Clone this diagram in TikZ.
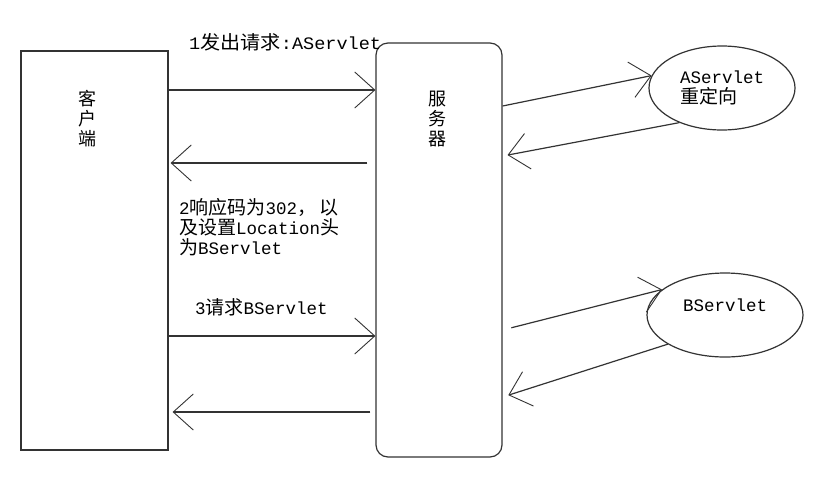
\documentclass[tikz,border=0pt]{standalone}
\usepackage{fontspec}
\usepackage{graphicx}
\setmainfont{Liberation Mono}
\newfontfamily\cjkfont{Noto Sans CJK SC}
\usetikzlibrary{arrows.meta,shapes.geometric}
\newcommand\zhtxt[1]{{\cjkfont\fontsize{19}{20}\selectfont #1}}
\begin{document}
\begin{tikzpicture}[x=1pt,y=-1pt,
  ln/.style={draw=black!80, line width=1.2pt},
  arr/.style={draw=black!80, line width=1.2pt, -{Straight Barb[length=20pt,width=36pt,line width=0.9pt]}},
  txt/.style={font=\fontsize{17.5}{20}\selectfont, inner sep=0pt, text=black},
  vtxt/.style={font=\cjkfont\fontsize{18}{20}\selectfont, inner sep=0pt, align=center, text=black}]
\useasboundingbox[fill=white] (0,0) rectangle (818,477);
% boxes
\node[ln, rectangle, minimum width=147pt, minimum height=399pt, inner sep=0pt] (cli) at (94.5,250.5) {};
\node[ln, rectangle, rounded corners=12pt, minimum width=126pt, minimum height=414pt, inner sep=0pt] (srv) at (439,250) {};
\node[vtxt] (clitxt) at (87,119) {客\\户\\端};
\node[vtxt] (srvtxt) at (437,119) {服\\务\\器};
% ellipses
\node[ln, ellipse, minimum width=146pt, minimum height=84pt, txt, align=left] (ea) at (722,88) {AServlet\\\zhtxt{重定向}};
\node[ln, ellipse, minimum width=156pt, minimum height=84pt, txt] (eb) at (725,315) {\raisebox{4pt}[0pt][0pt]{BServlet}};
% labels
\node[txt, anchor=west] (lab1) at (189,42) {\scalebox{1.06}[1]{1\zhtxt{发出请求}:AServlet}};
\node[txt, anchor=west, align=left] (lab2) at (179,227) {2\zhtxt{响应码为}302\zhtxt{，\,以}\\\zhtxt{及设置}Location\zhtxt{头}\\\zhtxt{为}BServlet};
\node[txt, anchor=west] (lab3) at (195,307) {3\zhtxt{请求}BServlet};
% client <-> server
\draw[arr] (cli.east |- 0,90) -- (srv.west |- 0,90);
\draw[arr, shorten <=8pt, shorten >=2pt] (srv.west |- 0,163) -- (cli.east |- 0,163);
\draw[arr] (cli.east |- 0,336) -- (srv.west |- 0,336);
\draw[arr, shorten <=5pt, shorten >=4pt] (srv.west |- 0,412) -- (cli.east |- 0,412);
% server <-> servlets
\draw[arr] (srv.east |- 0,106) -- (ea.170);
\draw[arr, shorten >=5pt] (ea.219) -- (srv.east |- 0,156);
\draw[arr, shorten <=9pt] (srv.east |- 0,330) -- (eb.158);
\draw[arr, shorten >=6pt] (eb.207) -- (srv.east |- 0,397);
\end{tikzpicture}
\end{document}
